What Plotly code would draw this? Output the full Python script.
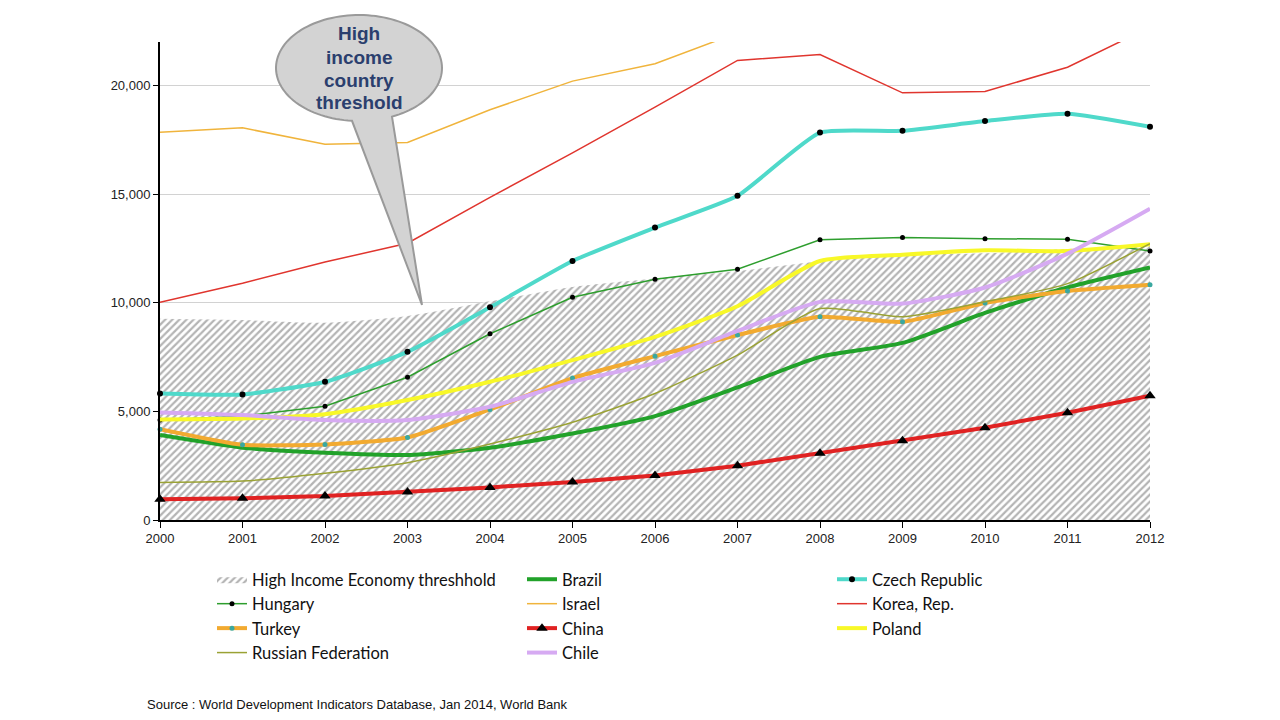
import plotly.graph_objects as go
import numpy as np

years = list(range(2000, 2013))
threshold = [9265, 9205, 9075, 9385, 10065, 10725, 11115, 11455, 11905, 12195, 12275, 12475, 12615]
brazil = [3910, 3330, 3100, 2990, 3330, 3980, 4780, 6100, 7510, 8150, 9530, 10700, 11620]
czech = [5820, 5780, 6360, 7740, 9790, 11920, 13460, 14920, 17830, 17910, 18360, 18700, 18100]
hungary = [4600, 4780, 5240, 6570, 8570, 10250, 11080, 11540, 12900, 13000, 12950, 12920, 12380]
israel = [17850, 18050, 17290, 17380, 18880, 20200, 21000, 22420, None, None, None, None, None]
korea = [10020, 10900, 11870, 12740, 14850, 16900, 19000, 21150, 21420, 19660, 19720, 20840, 22680]
turkey = [4180, 3460, 3480, 3800, 5090, 6530, 7540, 8510, 9350, 9120, 9990, 10540, 10830]
china = [950, 1000, 1100, 1290, 1500, 1750, 2050, 2500, 3070, 3650, 4250, 4940, 5720]
poland = [4630, 4670, 4870, 5520, 6360, 7360, 8430, 9840, 11920, 12210, 12410, 12380, 12690]
russia = [1730, 1790, 2150, 2640, 3500, 4500, 5820, 7590, 9730, 9350, 10040, 10880, 12720]
chile = [4950, 4830, 4600, 4600, 5210, 6360, 7230, 8700, 10040, 9960, 10700, 12260, 14330]

y_ticks = [0, 5000, 10000, 15000, 20000]
callout_lines = ["High", "income", "country", "threshold"]
source_text = "Source : World Development Indicators Database, Jan 2014, World Bank"

# layout geometry (pixels)
W, H = 1280, 720
L, R, T, B = 160, 130, 42, 200
PW, PH = W - L - R, H - T - B


def px(x):
    return (x - L) / PW


def py(y):
    return (H - B - y) / PH


LEG_FONT = dict(family="Lato, Open Sans, sans-serif", size=16.5, color="#111")

fig = go.Figure()

fig.add_trace(go.Scatter(
    x=years, y=threshold, name="High Income Economy threshhold",
    mode="lines", line=dict(width=0, shape="spline", smoothing=0.6),
    fill="tozeroy", fillcolor="rgba(0,0,0,0)",
    fillpattern=dict(shape="/", fgcolor="#6a6a6a", bgcolor="white", size=5, solidity=0.45),
    legend="legend", hoverinfo="skip"))

fig.add_trace(go.Scatter(x=years, y=brazil, name="Brazil", mode="lines",
                         line=dict(color="#22A22A", width=4, shape="spline", smoothing=0.6),
                         legend="legend2"))
fig.add_trace(go.Scatter(x=years, y=czech, name="Czech Republic", mode="lines+markers",
                         line=dict(color="#4FD9CA", width=4, shape="spline", smoothing=0.5),
                         marker=dict(color="black", size=6), cliponaxis=False,
                         legend="legend3"))
fig.add_trace(go.Scatter(x=years, y=hungary, name="Hungary", mode="lines+markers",
                         line=dict(color="#2E9E2E", width=1.5),
                         marker=dict(color="black", size=5), cliponaxis=False,
                         legend="legend"))
fig.add_trace(go.Scatter(x=years, y=israel, name="Israel", mode="lines",
                         line=dict(color="#F0B43C", width=1.5),
                         legend="legend2"))
fig.add_trace(go.Scatter(x=years, y=korea, name="Korea, Rep.", mode="lines",
                         line=dict(color="#E0352E", width=1.5),
                         legend="legend3"))
fig.add_trace(go.Scatter(x=years, y=turkey, name="Turkey", mode="lines+markers",
                         line=dict(color="#F2AA30", width=4, shape="spline", smoothing=0.5),
                         marker=dict(color="#3AA8A0", size=5), cliponaxis=False,
                         legend="legend"))
fig.add_trace(go.Scatter(x=years, y=china, name="China", mode="lines+markers",
                         line=dict(color="#E02222", width=4),
                         marker=dict(color="black", size=10, symbol="triangle-up"), cliponaxis=False,
                         legend="legend2"))
fig.add_trace(go.Scatter(x=years, y=poland, name="Poland", mode="lines",
                         line=dict(color="#F8F828", width=4, shape="spline", smoothing=0.6),
                         legend="legend3"))
fig.add_trace(go.Scatter(x=years, y=russia, name="Russian Federation", mode="lines",
                         line=dict(color="#9AA234", width=1.5, shape="spline", smoothing=0.6),
                         legend="legend"))
fig.add_trace(go.Scatter(x=years, y=chile, name="Chile", mode="lines",
                         line=dict(color="#D6AAF2", width=4, shape="spline", smoothing=0.6),
                         legend="legend2"))

# Callout bubble (ellipse + tail) as a single path in paper coords
cx, cy, rx, ry = 359, 68, 83, 53
tip = (422, 305)
tl = np.pi - np.arccos((cx - 352) / rx)  # left base angle (bottom side)
tr = np.arccos((392 - cx) / rx)          # right base angle
ts = np.linspace(tl, tr + 2 * np.pi, 120)
pts = [(cx + rx * np.cos(t), cy + ry * np.sin(t)) for t in ts]
path = "M {:.5f},{:.5f} ".format(px(pts[0][0]), py(pts[0][1]))
for (x_, y_) in pts[1:]:
    path += "L {:.5f},{:.5f} ".format(px(x_), py(y_))
path += "L {:.5f},{:.5f} Z".format(px(tip[0]), py(tip[1]))

fig.add_shape(type="path", path=path, xref="paper", yref="paper",
              fillcolor="#D3D3D3", line=dict(color="#9A9A9A", width=2), layer="above")

for i, line_txt in enumerate(callout_lines):
    fig.add_annotation(x=px(cx), y=py(34 + 23 * i), xref="paper", yref="paper",
                       text="<b>" + line_txt + "</b>", showarrow=False,
                       font=dict(family="Liberation Sans, Arial, sans-serif", size=19, color="#2B3F6E"),
                       align="center", xanchor="center", yanchor="middle")

fig.add_annotation(x=px(145), y=py(705), xref="paper", yref="paper",
                   text=source_text, showarrow=False,
                   font=dict(family="Liberation Sans, Arial, sans-serif", size=13, color="#111"),
                   xanchor="left", yanchor="middle")

leg_common = dict(orientation="v", xanchor="left", yanchor="top", font=LEG_FONT,
                  bgcolor="rgba(0,0,0,0)", traceorder="normal", itemwidth=30)
LY = 562
fig.update_layout(
    width=W, height=H,
    margin=dict(l=L, r=R, t=T, b=B),
    paper_bgcolor="white", plot_bgcolor="white",
    showlegend=True,
    legend=dict(x=px(212), y=py(LY), **leg_common),
    legend2=dict(x=px(522), y=py(LY), **leg_common),
    legend3=dict(x=px(832), y=py(LY), **leg_common),
    xaxis=dict(range=[2000, 2012], tickvals=years, ticktext=[str(y) for y in years],
               showgrid=False, zeroline=False, showline=True, linecolor="black", linewidth=1.5,
               ticks="outside", ticklen=6, tickcolor="black",
               tickfont=dict(family="Liberation Sans, Arial, sans-serif", size=13, color="#222")),
    yaxis=dict(range=[0, 22000], tickvals=y_ticks, tickformat=",d",
               showgrid=True, gridcolor="#D2D2D2", gridwidth=1, zeroline=False,
               showline=True, linecolor="black", linewidth=2,
               ticks="outside", ticklen=5, tickcolor="black",
               tickfont=dict(family="Liberation Sans, Arial, sans-serif", size=13, color="#222")),
)

fig.write_html("out.html")
